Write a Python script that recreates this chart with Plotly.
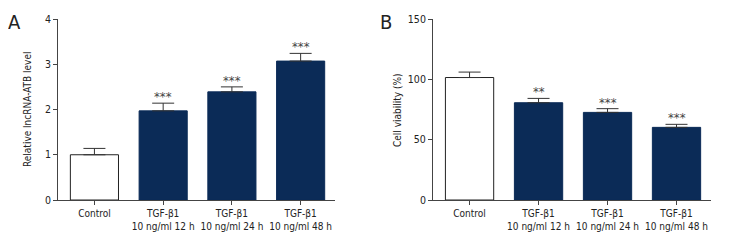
import plotly.graph_objects as go

categories = ["Control", "TGF-β1<br>10 ng/ml 12 h", "TGF-β1<br>10 ng/ml 24 h", "TGF-β1<br>10 ng/ml 48 h"]
lnc_values = [1.00, 1.97, 2.39, 3.07]
lnc_errors = [0.14, 0.17, 0.11, 0.17]
lnc_stars = ["", "***", "***", "***"]
via_values = [101.5, 80.6, 72.6, 60.2]
via_errors = [4.5, 3.6, 3.1, 2.5]
via_stars = ["", "**", "***", "***"]
bar_colors = ["white", "#0b2b57", "#0b2b57", "#0b2b57"]
line_colors = ["#222222", "#0b2b57", "#0b2b57", "#0b2b57"]

FONT = "DejaVu Sans Condensed"
AX = "#444444"
TXT = "#222222"
W, H = 724, 244  # page body has an 8px margin

fig = go.Figure()
for vals, errs, xa, ya in [(lnc_values, lnc_errors, "x", "y"), (via_values, via_errors, "x2", "y2")]:
    fig.add_trace(go.Bar(
        x=categories, y=vals, xaxis=xa, yaxis=ya, width=0.70,
        marker=dict(color=bar_colors, line=dict(color=line_colors, width=1)),
        error_y=dict(type="data", array=errs, arrayminus=[0]*4, symmetric=False,
                     color="#333333", thickness=1, width=11),
        showlegend=False, hoverinfo="skip"))

ann = []
for vals, errs, stars, xa, ya in [(lnc_values, lnc_errors, lnc_stars, "x", "y"),
                                   (via_values, via_errors, via_stars, "x2", "y2")]:
    for c, v, e, s in zip(categories, vals, errs, stars):
        if s:
            ann.append(dict(x=c, y=v + e, xref=xa, yref=ya, text=s, showarrow=False,
                            yanchor="bottom", yshift=-3, font=dict(family=FONT, size=13, color="#444444")))

def px(x, y):
    return (x - 8) / W, 1 - (y - 8) / H

for lbl, x in [("A", 14), ("B", 386)]:
    fx, _ = px(x, 0)
    ann.append(dict(x=fx, y=1, xref="paper", yref="paper", text=lbl, showarrow=False,
                    xanchor="center", yanchor="top", font=dict(family=FONT, size=20, color=TXT)))
for ttl, (x, y) in [("Relative lncRNA-ATB level", (27, 110)), ("Cell viability (%)", (397, 110))]:
    fx, fy = px(x, y)
    ann.append(dict(x=fx, y=fy, xref="paper", yref="paper", text=ttl, showarrow=False, textangle=-90,
                    xanchor="center", yanchor="middle", font=dict(family=FONT, size=10, color=TXT)))

xc = dict(showline=True, linecolor=AX, linewidth=1, ticks="outside", ticklen=4, tickcolor=AX,
          range=[-0.53, 3.5], tickangle=0, tickfont=dict(family=FONT, size=10, color=TXT),
          showgrid=False, zeroline=False, fixedrange=True, automargin=False)
yc = dict(showline=True, linecolor=AX, linewidth=1, ticks="outside", ticklen=4, tickcolor=AX,
          tickfont=dict(family=FONT, size=10.5, color=TXT), showgrid=False, zeroline=False,
          automargin=False)

ydom = [1 - (200 - 8) / H, 1 - (19 - 8) / H]

fig.update_layout(
    width=W, height=H, margin=dict(l=0, r=0, t=0, b=0),
    paper_bgcolor="white", plot_bgcolor="white", bargap=0.3,
    xaxis=dict(domain=[(58 - 8) / W, (335 - 8) / W], anchor="y", **xc),
    yaxis=dict(domain=ydom, anchor="x", range=[0, 4], tickvals=[0, 1, 2, 3, 4], **yc),
    xaxis2=dict(domain=[(433 - 8) / W, (711 - 8) / W], anchor="y2", **xc),
    yaxis2=dict(domain=ydom, anchor="x2", range=[0, 150], tickvals=[0, 50, 100, 150], **yc),
    annotations=ann,
)

fig.write_html("out.html")
